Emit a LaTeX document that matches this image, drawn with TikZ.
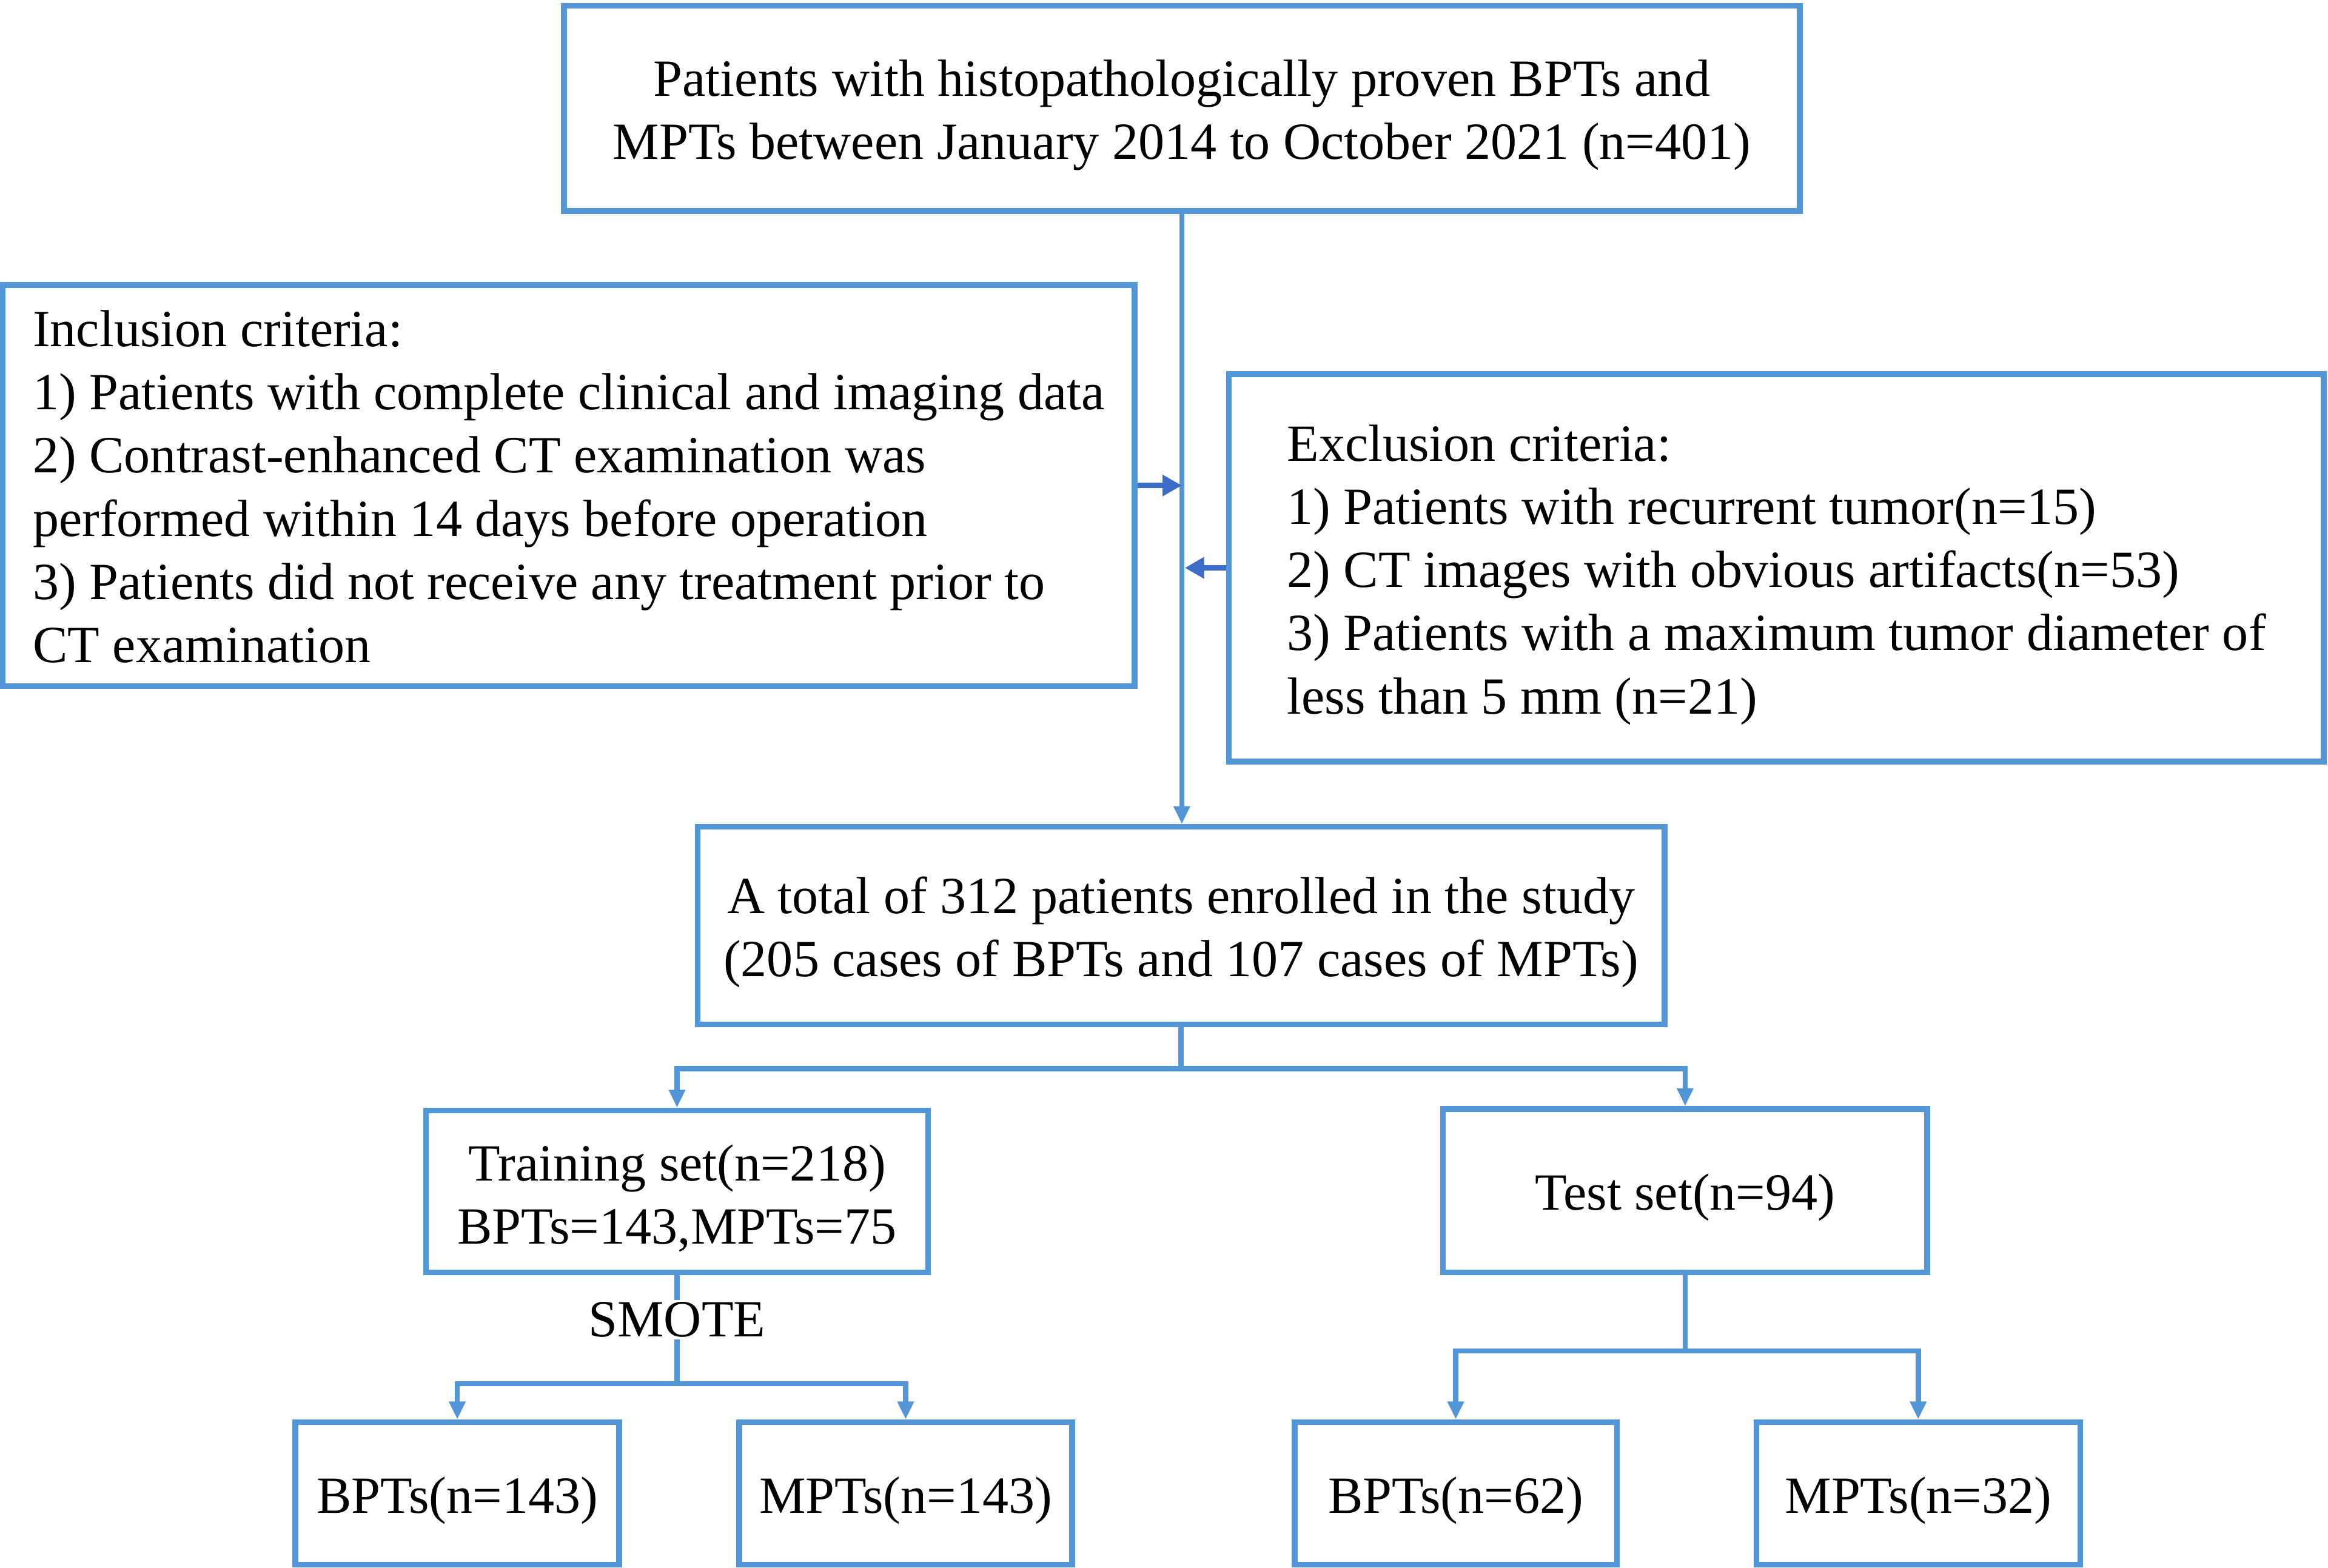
\documentclass[tikz,border=0pt]{standalone}
\usepackage{fontspec}
\setmainfont{Liberation Serif}
\usepackage{tikz}
\usetikzlibrary{arrows.meta}
\usetikzlibrary{calc}
\definecolor{boxblue}{RGB}{83,150,216}
\definecolor{arrblue}{RGB}{58,108,200}
\newcommand{\topstrut}{\rule{0pt}{9.6pt}}
\newcommand{\botstrut}{\rule[-2.3pt]{0pt}{2.3pt}}
\begin{document}
\begin{tikzpicture}[x=0.01cm,y=-0.01cm,
  box/.style={draw=boxblue,line width=1.1pt,align=center,inner sep=0pt,font=\fontsize{10}{12.1}\selectfont},
  crit/.style={box,align=left},
  link/.style={draw=boxblue,line width=1pt},
  arr/.style={link,-{Triangle[length=3.4pt,width=3pt]}},
  feed/.style={draw=arrblue,line width=1.1pt,-{Triangle[length=3.7pt,width=3.9pt]}}]
\useasboundingbox (0,0) rectangle (1568,1056);
\node[box,minimum width=8.32cm,minimum height=1.38cm] (src) at (796,73) {\topstrut Patients with histopathologically proven BPTs and\\MPTs between January 2014 to October 2021 (n=401)};
\node[crit,minimum width=7.62cm,minimum height=2.70cm] (incl) at (383,327) {\topstrut Inclusion criteria:\\1) Patients with complete clinical and imaging data\\2) Contrast-enhanced CT examination was\\performed within 14 days before operation\\3) Patients did not receive any treatment prior to\\CT examination\botstrut};
\node[crit,minimum width=7.37cm,minimum height=2.61cm] (excl) at (1196.5,382.5) {\topstrut Exclusion criteria:\\1) Patients with recurrent tumor(n=15)\\2) CT images with obvious artifacts(n=53)\\3) Patients with a maximum tumor diameter of\\less than 5 mm (n=21)};
\node[box,minimum width=6.51cm,minimum height=1.33cm] (total) at (795.5,623.5) {\topstrut A total of 312 patients enrolled in the study\\(205 cases of BPTs and 107 cases of MPTs)};
\node[box,minimum width=3.38cm,minimum height=1.09cm] (train) at (456,802.5) {\topstrut Training set(n=218)\\BPTs=143,MPTs=75};
\node[box,minimum width=3.26cm,minimum height=1.10cm] (test) at (1135,802) {\topstrut Test set(n=94)};
\node[box,minimum width=2.18cm,minimum height=0.96cm] (bptrain) at (308,1006) {\topstrut BPTs(n=143)};
\node[box,minimum width=2.24cm,minimum height=0.96cm] (mptrain) at (610,1006) {\topstrut MPTs(n=143)};
\node[box,minimum width=2.17cm,minimum height=0.96cm] (bptest) at (980.5,1006) {\topstrut BPTs(n=62)};
\node[box,minimum width=2.18cm,minimum height=0.96cm] (mptest) at (1292,1006) {\topstrut MPTs(n=32)};
% main flow
\draw[arr] (src.south) -- (src.south |- total.north);
\draw[feed] (incl.east) -- (incl.east -| src.south);
\draw[feed] (excl.west) -- ($(excl.west -| src.south)+(2,0)$);
% split into sets
\draw[arr] (total.south) -- ++(0,28) -| (train.north);
\draw[arr] (total.south) -- ++(0,28) -| (test.north);
\draw[arr] (train.south) -- ++(0,73) -| (bptrain.north);
\draw[arr] (train.south) -- ++(0,73) -| (mptrain.north);
\draw[arr] (test.south) -- ++(0,51) -| (bptest.north);
\draw[arr] (test.south) -- ++(0,51) -| (mptest.north);
\node[fill=white,inner sep=0.4pt,font=\fontsize{10}{12.1}\selectfont] (smote) at (456,889) {SMOTE};
\end{tikzpicture}
\end{document}
